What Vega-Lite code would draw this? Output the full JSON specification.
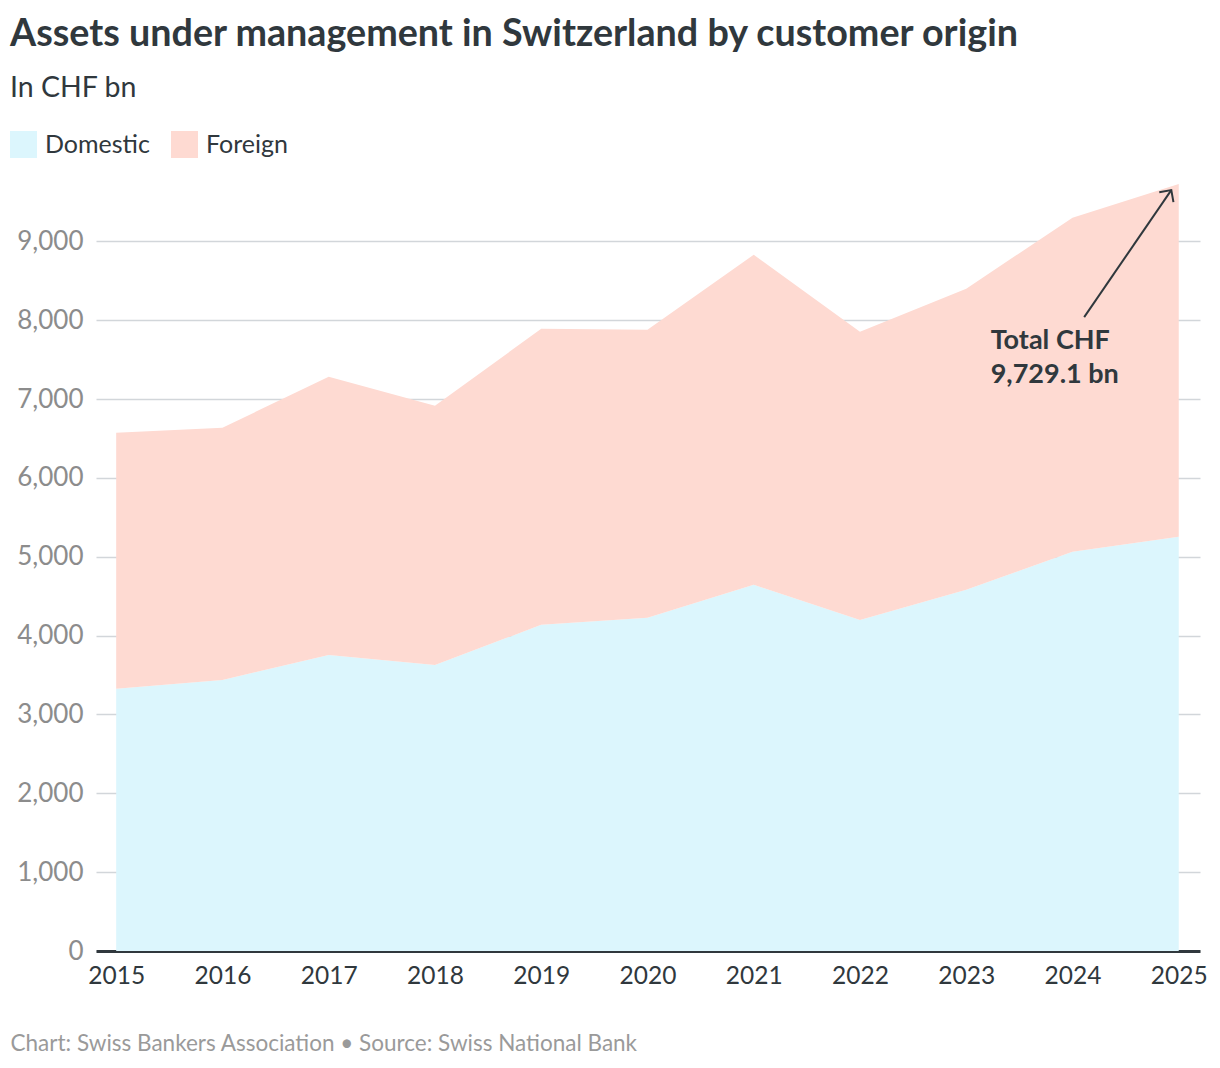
{
  "$schema": "https://vega.github.io/schema/vega-lite/v6.json",
  "width": 1104,
  "height": 767,
  "autosize": {"type": "none"},
  "padding": {"left": 96, "top": 184, "right": 20, "bottom": 117},
  "background": "white",
  "title": {
    "text": "Assets under management in Switzerland by customer origin",
    "subtitle": "In CHF bn",
    "anchor": "start",
    "frame": "group",
    "dx": -86,
    "font": "Lato",
    "fontSize": 37.7,
    "fontWeight": "bold",
    "color": "#30383d",
    "subtitleFont": "Lato",
    "subtitleFontSize": 28.5,
    "subtitleColor": "#30383d",
    "subtitlePadding": 20,
    "offset": 29
  },
  "datasets": {
    "aum": [
      {"year": 2015, "origin": "Domestic", "value": 3325},
      {"year": 2016, "origin": "Domestic", "value": 3439},
      {"year": 2017, "origin": "Domestic", "value": 3756},
      {"year": 2018, "origin": "Domestic", "value": 3629},
      {"year": 2019, "origin": "Domestic", "value": 4137},
      {"year": 2020, "origin": "Domestic", "value": 4226},
      {"year": 2021, "origin": "Domestic", "value": 4645},
      {"year": 2022, "origin": "Domestic", "value": 4200},
      {"year": 2023, "origin": "Domestic", "value": 4581},
      {"year": 2024, "origin": "Domestic", "value": 5063},
      {"year": 2025, "origin": "Domestic", "value": 5254},
      {"year": 2015, "origin": "Foreign", "value": 3249},
      {"year": 2016, "origin": "Foreign", "value": 3198},
      {"year": 2017, "origin": "Foreign", "value": 3528},
      {"year": 2018, "origin": "Foreign", "value": 3287},
      {"year": 2019, "origin": "Foreign", "value": 3756},
      {"year": 2020, "origin": "Foreign", "value": 3655},
      {"year": 2021, "origin": "Foreign", "value": 4187},
      {"year": 2022, "origin": "Foreign", "value": 3655},
      {"year": 2023, "origin": "Foreign", "value": 3820},
      {"year": 2024, "origin": "Foreign", "value": 4239},
      {"year": 2025, "origin": "Foreign", "value": 4475.1}
    ],
    "arrow": [
      {"year": 2024.11, "value": 8041},
      {"year": 2024.93, "value": 9652}
    ],
    "head": [
      {"year": 2024.93, "value": 9652}
    ],
    "note": [
      {"year": 2023.23, "value": 7636, "label": "Total CHF\n9,729.1 bn"}
    ]
  },
  "layer": [
    {
      "data": {"name": "aum"},
      "mark": {"type": "area", "interpolate": "linear"},
      "encoding": {
        "x": {
          "field": "year",
          "type": "quantitative",
          "scale": {"domain": [2014.81, 2025.2], "nice": false, "zero": false},
          "axis": {
            "values": [2015, 2016, 2017, 2018, 2019, 2020, 2021, 2022, 2023, 2024, 2025],
            "format": "d",
            "grid": false,
            "ticks": false,
            "domainColor": "#30383d",
            "domainWidth": 3,
            "labelFont": "Lato",
            "labelFontSize": 24.5,
            "labelColor": "#30383d",
            "labelPadding": 13,
            "title": "Chart: Swiss Bankers Association • Source: Swiss National Bank",
            "titleFont": "Lato",
            "titleFontSize": 22.5,
            "titleFontWeight": "normal",
            "titleColor": "#9a9a9a",
            "titleAnchor": "start",
            "titleAlign": "left",
            "titleBaseline": "alphabetic",
            "titleX": -86,
            "titleY": 99
          }
        },
        "y": {
          "field": "value",
          "type": "quantitative",
          "stack": "zero",
          "scale": {"domain": [0, 9729.1], "nice": false},
          "axis": {
            "values": [0, 1000, 2000, 3000, 4000, 5000, 6000, 7000, 8000, 9000],
            "format": ",.0f",
            "ticks": false,
            "domain": false,
            "gridColor": "#d2d6da",
            "gridWidth": 1.5,
            "labelFont": "Lato",
            "labelFontSize": 26,
            "labelColor": "#8c8c8c",
            "labelPadding": 13,
            "title": null
          }
        },
        "color": {
          "field": "origin",
          "type": "nominal",
          "scale": {"domain": ["Domestic", "Foreign"], "range": ["#dcf6fd", "#fedad2"]},
          "legend": {
            "title": null,
            "orient": "none",
            "legendX": -86,
            "legendY": -53,
            "direction": "horizontal",
            "symbolType": "square",
            "symbolSize": 729,
            "symbolStrokeWidth": 0,
            "symbolOpacity": 1,
            "labelFont": "Lato",
            "labelFontSize": 25,
            "labelColor": "#30383d",
            "labelOffset": 8,
            "columnPadding": 21,
            "padding": 0
          }
        },
        "order": {"field": "origin", "sort": "ascending"}
      }
    },
    {
      "data": {"name": "arrow"},
      "mark": {"type": "line", "color": "#30383d", "strokeWidth": 2},
      "encoding": {
        "x": {"field": "year", "type": "quantitative"},
        "y": {"field": "value", "type": "quantitative"}
      }
    },
    {
      "data": {"name": "head"},
      "mark": {
        "type": "point",
        "shape": "M -1 1 L 0 0 L 1 1",
        "filled": false,
        "stroke": "#30383d",
        "strokeWidth": 2,
        "size": 300,
        "angle": 35,
        "opacity": 1
      },
      "encoding": {
        "x": {"field": "year", "type": "quantitative"},
        "y": {"field": "value", "type": "quantitative"}
      }
    },
    {
      "data": {"name": "note"},
      "mark": {
        "type": "text",
        "align": "left",
        "baseline": "alphabetic",
        "font": "Lato",
        "fontSize": 27,
        "fontWeight": "bold",
        "color": "#30383d",
        "lineBreak": "\n",
        "lineHeight": 34
      },
      "encoding": {
        "x": {"field": "year", "type": "quantitative"},
        "y": {"field": "value", "type": "quantitative"},
        "text": {"field": "label"}
      }
    }
  ],
  "config": {
    "view": {"stroke": null}
  }
}
